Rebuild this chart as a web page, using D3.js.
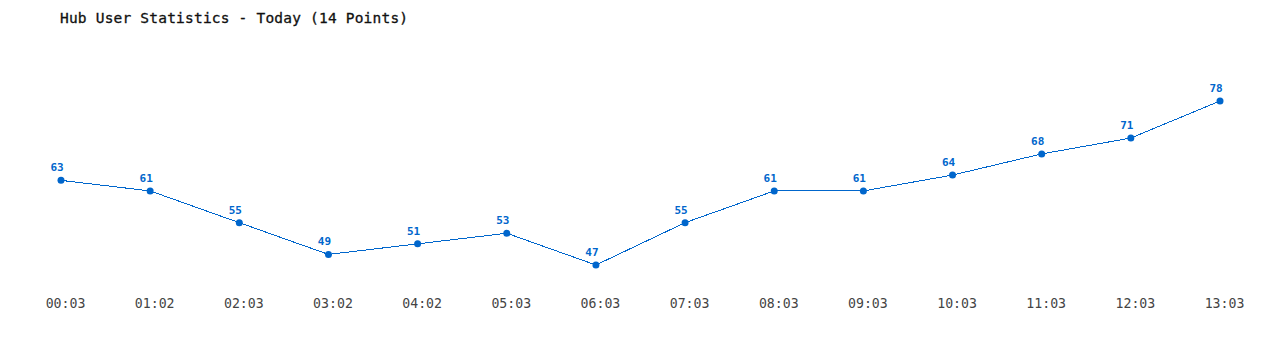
<!DOCTYPE html>
<html><head><meta charset="utf-8">
<script src="https://cdn.jsdelivr.net/npm/d3@7"></script>
<style>
html,body{margin:0;padding:0;background:#fff;}
svg text{font-family:"DejaVu Sans Mono","Liberation Mono",monospace;}
</style></head>
<body>
<div id="chart"></div>
<script>
const categories = ["00:03","01:02","02:03","03:02","04:02","05:03","06:03","07:03","08:03","09:03","10:03","11:03","12:03","13:03"];
const users = [63,61,55,49,51,53,47,55,61,61,64,68,71,78];
const title = "Hub User Statistics - Today (14 Points)";

const W = 1280, H = 350;
const svg = d3.select("#chart").append("svg").attr("width", W).attr("height", H);

const x = d3.scalePoint().domain(categories).range([61, 1220]);
const y = d3.scaleLinear().domain([d3.min(users), d3.max(users)]).range([265, 101]);

svg.append("text").attr("x", 60).attr("y", 23)
  .attr("font-size", 14.5).attr("fill", "#111").attr("font-weight", "normal")
  .attr("stroke","#111").attr("stroke-width",0.3)
  .style("letter-spacing","0.2px")
  .text(title);

const line = d3.line().x((d,i) => x(categories[i])).y(d => y(d));
svg.append("path").datum(users).attr("d", line)
  .attr("fill","none").attr("stroke","#0066cc").attr("stroke-width",1)
  .attr("shape-rendering","crispEdges");

svg.selectAll("circle.pt").data(users).join("circle")
  .attr("class","pt")
  .attr("cx",(d,i)=>x(categories[i])).attr("cy",d=>y(d)).attr("r",3.5)
  .attr("fill","#0066cc");

svg.selectAll("text.val").data(users).join("text")
  .attr("class","val")
  .attr("x",(d,i)=>x(categories[i]) - 4).attr("y",d=>y(d)-9)
  .attr("text-anchor","middle").attr("font-size",11).attr("font-weight","bold")
  .attr("fill","#0066cc").text(d=>d);

const axis = d3.axisBottom(x).tickSize(0).tickPadding(0);
const g = svg.append("g").attr("transform","translate(0,308)").call(axis);
g.select(".domain").remove();
g.selectAll("text").attr("font-size",13.2).attr("fill","#444")
  .attr("font-family","DejaVu Sans Mono, monospace").attr("dy","0")
  .attr("dx", 4);
</script>
</body></html>
